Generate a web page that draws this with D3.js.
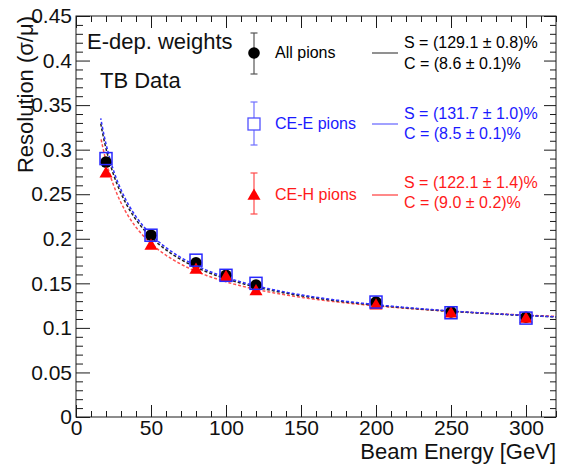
<!DOCTYPE html>
<html><head><meta charset="utf-8">
<script src="https://cdn.jsdelivr.net/npm/d3@7"></script>
<style>
body{margin:0;background:#fff}
svg{display:block}
text{font-family:"Liberation Sans",Arial,Helvetica,sans-serif}
</style>
</head><body>
<svg id="c" width="562" height="465"></svg>
<script>
// ---- data ----
const energies = [20, 50, 80, 100, 120, 200, 250, 300];
const allPions = [0.286, 0.204, 0.173, 0.159, 0.148, 0.129, 0.118, 0.112];
const ceePions = [0.290, 0.204, 0.176, 0.159, 0.150, 0.129, 0.117, 0.111];
const cehPions = [0.274, 0.193, 0.166, 0.158, 0.142, 0.126, 0.117, 0.111];
const seriesNames = ["All pions", "CE-E pions", "CE-H pions"];
const fitS = [129.1, 131.7, 122.1];
const fitSErr = [0.8, 1.0, 1.4];
const fitC = [8.6, 8.5, 9.0];
const fitCErr = [0.1, 0.1, 0.2];
const fitRange = [16.5, 320];
const xTicks = [0, 50, 100, 150, 200, 250, 300];
const yTicks = [0, 0.05, 0.1, 0.15, 0.2, 0.25, 0.3, 0.35, 0.4, 0.45];
const xTitle = "Beam Energy [GeV]";
const yTitle = "Resolution (σ/μ)";
const labels = ["E-dep. weights", "TB Data"];

// ---- layout ----
const L = 76, R = 556, T = 16, B = 417;
const svg = d3.select("#c");
const x = d3.scaleLinear().domain([0, 320]).range([L, R]);
const y = d3.scaleLinear().domain([0, 0.45]).range([B, T]);

const colors = ["#000000", "#1a1aff", "#ff0000"];
const legColors = ["#555555", "#6f6fff", "#ff4a4a"];
const textColors = ["#000000", "#1a1aff", "#ff1a1a"];
const values = [allPions, ceePions, cehPions];

// ---- axes ----
const xMinor = d3.range(0, 321, 10).filter(v => v % 50 !== 0);
const yMinor = d3.range(0, 46, 1).map(v => v / 100).filter(v => Math.round(v * 100) % 5 !== 0);
const fmtY = d => d === 0 ? "0" : String(+d.toFixed(2));

function styleAxis(g) {
  g.select(".domain").remove();
  g.selectAll("line").attr("stroke", "#1a1a1a").attr("stroke-width", 1);
  g.selectAll("text").attr("fill", "#111").attr("font-size", 21)
    .style("font-family", '"Liberation Sans",Arial,sans-serif');
}
// bottom
svg.append("g").attr("transform", `translate(0,${B})`)
  .call(d3.axisBottom(x).tickValues(xTicks).tickSizeInner(-12).tickSizeOuter(0).tickPadding(3).tickFormat(d3.format("d")))
  .call(styleAxis);
svg.append("g").attr("transform", `translate(0,${B})`)
  .call(d3.axisBottom(x).tickValues(xMinor).tickSizeInner(-6).tickSizeOuter(0).tickFormat(""))
  .call(styleAxis);
// top
svg.append("g").attr("transform", `translate(0,${T})`)
  .call(d3.axisTop(x).tickValues(xTicks).tickSizeInner(-12).tickSizeOuter(0).tickFormat(""))
  .call(styleAxis);
svg.append("g").attr("transform", `translate(0,${T})`)
  .call(d3.axisTop(x).tickValues(xMinor).tickSizeInner(-6).tickSizeOuter(0).tickFormat(""))
  .call(styleAxis);
// left
svg.append("g").attr("transform", `translate(${L},0)`)
  .call(d3.axisLeft(y).tickValues(yTicks).tickSizeInner(-14).tickSizeOuter(0).tickPadding(4).tickFormat(fmtY))
  .call(styleAxis);
svg.append("g").attr("transform", `translate(${L},0)`)
  .call(d3.axisLeft(y).tickValues(yMinor).tickSizeInner(-7).tickSizeOuter(0).tickFormat(""))
  .call(styleAxis);
// right
svg.append("g").attr("transform", `translate(${R},0)`)
  .call(d3.axisRight(y).tickValues(yTicks).tickSizeInner(-12).tickSizeOuter(0).tickFormat(""))
  .call(styleAxis);
svg.append("g").attr("transform", `translate(${R},0)`)
  .call(d3.axisRight(y).tickValues(yMinor).tickSizeInner(-6).tickSizeOuter(0).tickFormat(""))
  .call(styleAxis);

// frame
svg.append("rect").attr("x", L).attr("y", T).attr("width", R - L).attr("height", B - T)
  .attr("fill", "none").attr("stroke", "#1a1a1a").attr("stroke-width", 1);

// titles
svg.append("text").attr("x", R).attr("y", 459).attr("text-anchor", "end")
  .attr("font-size", 22).attr("fill", "#111").text(xTitle);
svg.append("text").attr("transform", `translate(33,${T}) rotate(-90)`).attr("text-anchor", "end")
  .attr("font-size", 22).attr("fill", "#111").text(yTitle);

// ---- fit curves ----
const fitE = d3.range(fitRange[0], fitRange[1] + 0.001, 0.5);
const line = d3.line().x(d => x(d[0])).y(d => y(d[1]));
[2, 0, 1].forEach(i => {
  const pts = fitE.map(e => [e, Math.sqrt(Math.pow(fitS[i] / 100, 2) / e + Math.pow(fitC[i] / 100, 2))]);
  svg.append("path").attr("d", line(pts)).attr("fill", "none")
    .attr("stroke", i === 0 ? "#222" : (i === 1 ? "#3030ff" : "#ff5050"))
    .attr("stroke-width", 1.5).attr("stroke-dasharray", "3,2")
    .attr("stroke-dashoffset", i * 1.5);
});

// ---- markers ----
const tri = d3.symbol().type(d3.symbolTriangle).size(74);
function drawMarker(g, i, cx, cy) {
  if (i === 0) g.append("circle").attr("cx", cx).attr("cy", cy).attr("r", 5.8).attr("fill", colors[0]);
  else if (i === 1) g.append("rect").attr("x", cx - 6).attr("y", cy - 6).attr("width", 12).attr("height", 12)
    .attr("fill", "none").attr("stroke", "#2828ff").attr("stroke-width", 1.5);
  else g.append("path").attr("d", tri()).attr("transform", `translate(${cx},${cy + 1})`).attr("fill", colors[2]);
}
const mg = svg.append("g");
[0, 2, 1].forEach(i => {
  energies.forEach((e, k) => drawMarker(mg, i, x(e), y(values[i][k])));
});

// ---- legend / labels ----
svg.append("text").attr("x", 87).attr("y", 49).attr("font-size", 22).attr("fill", "#111").text(labels[0]);
svg.append("text").attr("x", 100).attr("y", 88).attr("font-size", 22).attr("fill", "#111").text(labels[1]);

const legY = [53, 124, 195];
const barTop = [33, 102, 173], barBot = [74, 145, 214];
const nameBase = [58, 129, 200];
const sBase = [48, 119, 188], cBase = [69, 139, 208];
const lg = svg.append("g");
seriesNames.forEach((name, i) => {
  const bx = 254;
  lg.append("line").attr("x1", bx).attr("x2", bx).attr("y1", barTop[i]).attr("y2", barBot[i])
    .attr("stroke", legColors[i]).attr("stroke-width", 1.2);
  [barTop[i], barBot[i]].forEach(yy => lg.append("line").attr("x1", bx - 3.5).attr("x2", bx + 3.5)
    .attr("y1", yy).attr("y2", yy).attr("stroke", legColors[i]).attr("stroke-width", 1.2));
  if (i === 1) lg.append("rect").attr("x", bx - 6).attr("y", legY[i] - 6).attr("width", 12).attr("height", 12)
    .attr("fill", "#fff").attr("stroke", "#5050ff").attr("stroke-width", 1.3);
  else drawMarker(lg, i, bx, legY[i]);
  lg.append("text").attr("x", 275).attr("y", nameBase[i]).attr("font-size", 16).attr("fill", textColors[i]).text(name);
  lg.append("line").attr("x1", 372).attr("x2", 398).attr("y1", legY[i]).attr("y2", legY[i])
    .attr("stroke", legColors[i]).attr("stroke-width", 1.3);
  lg.append("text").attr("x", 404).attr("y", sBase[i]).attr("font-size", 16).attr("fill", textColors[i])
    .text(`S = (${fitS[i].toFixed(1)} ± ${fitSErr[i].toFixed(1)})%`);
  lg.append("text").attr("x", 404).attr("y", cBase[i]).attr("font-size", 16).attr("fill", textColors[i])
    .text(`C = (${fitC[i].toFixed(1)} ± ${fitCErr[i].toFixed(1)})%`);
});
</script>
</body></html>
